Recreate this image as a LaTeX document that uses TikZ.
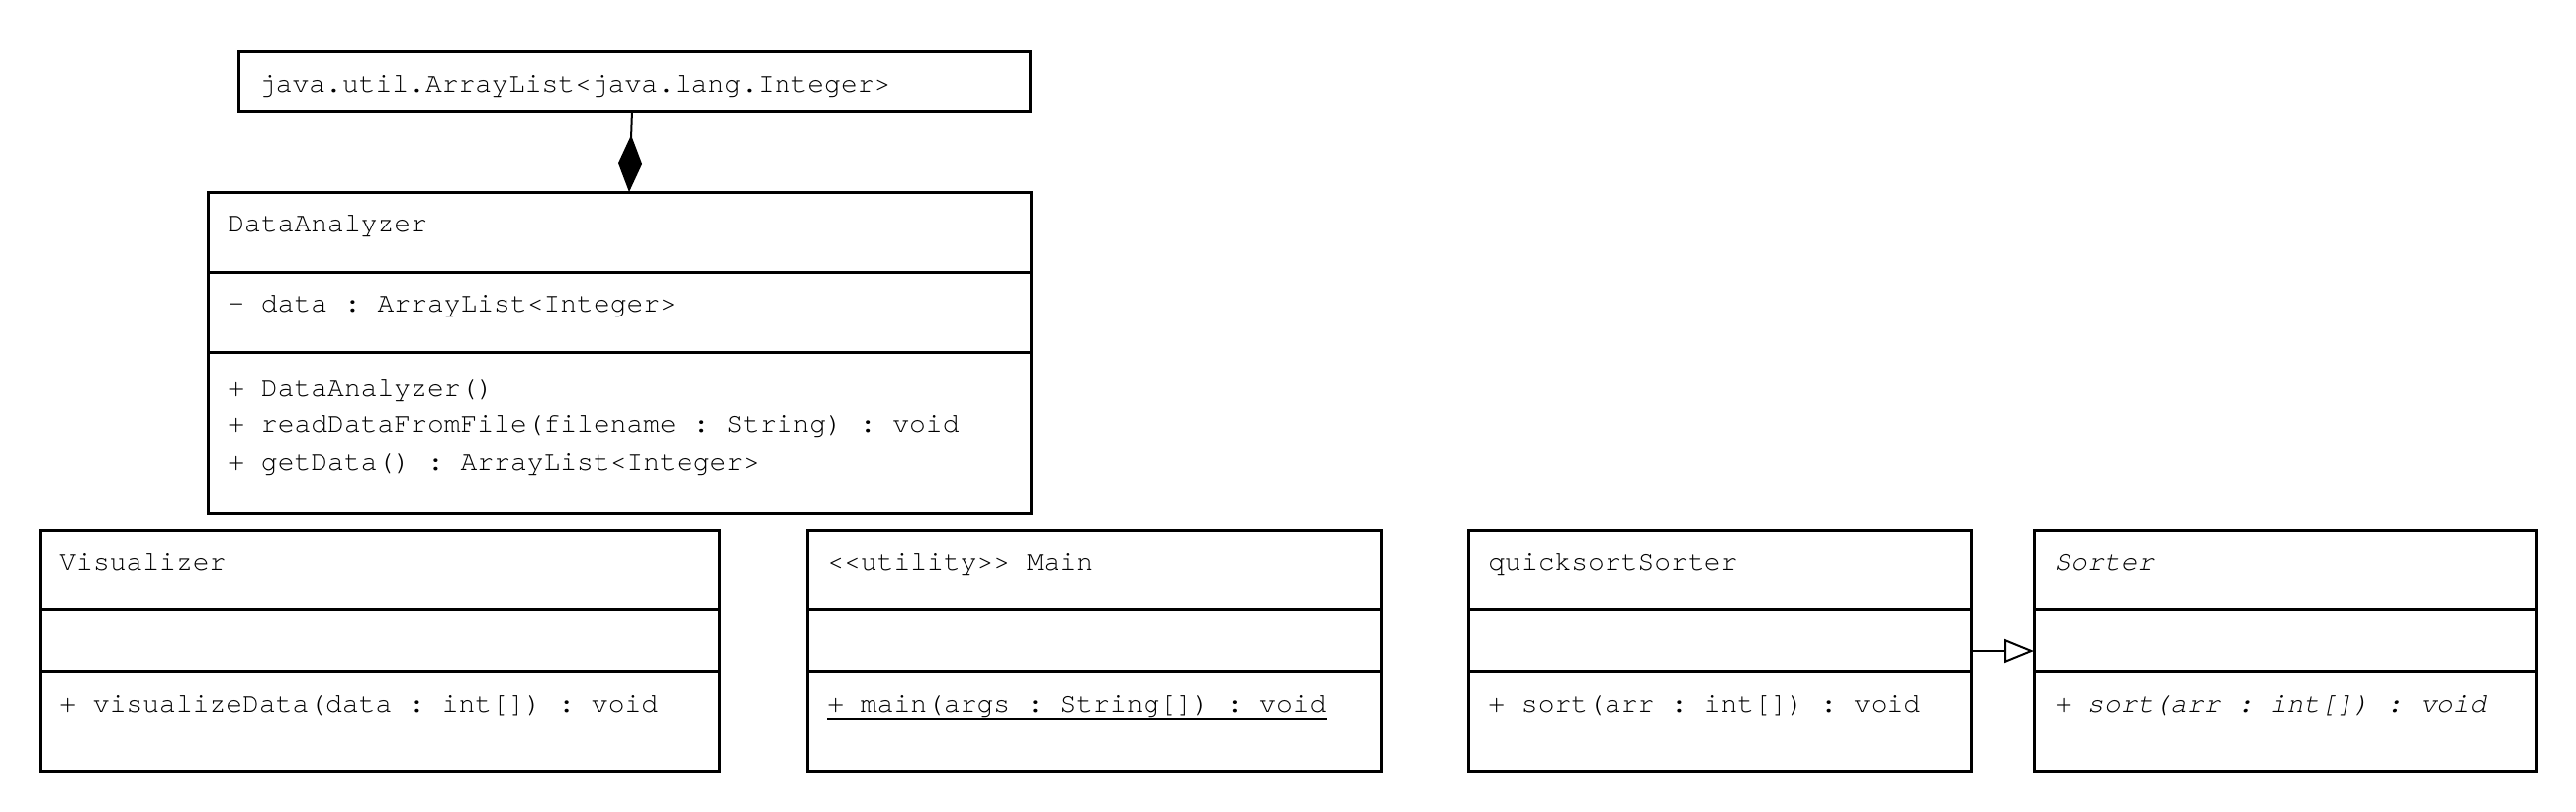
\documentclass[tikz,border=0pt]{standalone}
\usepackage{fontspec}
\setmonofont[Ligatures=NoCommon]{TeX Gyre Cursor}
\usetikzlibrary{arrows.meta,calc}
\begin{document}
\begin{tikzpicture}[x=0.5pt,y=-0.5pt,
  box/.style={draw, line width=1.5pt, anchor=north west, inner sep=0pt, outer sep=0pt, rectangle},
  divider/.style={line width=1.5pt},
  lbl/.style={anchor=base west, inner sep=0pt, font=\ttfamily\fontsize{14pt}{18pt}\selectfont},
  ilbl/.style={lbl, font=\ttfamily\itshape\fontsize{14pt}{18pt}\selectfont},
  comp/.style={line width=1pt, -{Diamond[length=28.5pt,width=12pt]}},
  gen/.style={line width=1pt, -{Triangle[open,length=15pt,width=12pt,fill=white]}}]
\useasboundingbox (0,0) rectangle (2604,820);

% java.util.ArrayList box
\node[box, minimum width=400pt, minimum height=30pt] (al) at (241.6,52) {};
\node[lbl] (alt) at (261.6,93) {java.util.ArrayList<java.lang.Integer>};

% DataAnalyzer
\node[box, minimum width=416pt, minimum height=162.5pt] (da) at (210,194) {};
\draw[divider] ($(da.north west)+(0,81)$) -- ($(da.north east)+(0,81)$);
\draw[divider] ($(da.north west)+(0,162)$) -- ($(da.north east)+(0,162)$);
\node[lbl] (dan) at (230,234) {DataAnalyzer};
\node[lbl] (daa) at (230,315) {- data : ArrayList<Integer>};
\node[lbl] (dam1) at (230,400) {+ DataAnalyzer()};
\node[lbl] (dam2) at (230,437) {+ readDataFromFile(filename : String) : void};
\node[lbl] (dam3) at (230,475) {+ getData() : ArrayList<Integer>};

% Visualizer
\node[box, minimum width=343.5pt, minimum height=122pt] (vis) at (40,536) {};
\draw[divider] ($(vis.north west)+(0,80)$) -- ($(vis.north east)+(0,80)$);
\draw[divider] ($(vis.north west)+(0,142)$) -- ($(vis.north east)+(0,142)$);
\node[lbl] (visn) at (60,576) {Visualizer};
\node[lbl] (vism) at (60,720) {+ visualizeData(data : int[]) : void};

% Main
\node[box, minimum width=290pt, minimum height=122pt] (mn) at (816,536) {};
\draw[divider] ($(mn.north west)+(0,80)$) -- ($(mn.north east)+(0,80)$);
\draw[divider] ($(mn.north west)+(0,142)$) -- ($(mn.north east)+(0,142)$);
\node[lbl] (mnn) at (836,576) {<<utility>> Main};
\node[lbl] (mnm) at (836,720) {+ main(args : String[]) : void};
\draw[line width=1pt] ($(mnm.base west)+(0,7)$) -- ($(mnm.base east)+(0,7)$);

% quicksortSorter
\node[box, minimum width=254pt, minimum height=122pt] (qs) at (1484,536) {};
\draw[divider] ($(qs.north west)+(0,80)$) -- ($(qs.north east)+(0,80)$);
\draw[divider] ($(qs.north west)+(0,142)$) -- ($(qs.north east)+(0,142)$);
\node[lbl] (qsn) at (1504,576) {quicksortSorter};
\node[lbl] (qsm) at (1504,720) {+ sort(arr : int[]) : void};

% Sorter
\node[box, minimum width=254pt, minimum height=122pt] (so) at (2056,536) {};
\draw[divider] ($(so.north west)+(0,80)$) -- ($(so.north east)+(0,80)$);
\draw[divider] ($(so.north west)+(0,142)$) -- ($(so.north east)+(0,142)$);
\node[ilbl] (son) at (2076,576) {Sorter};
\node[ilbl] (som) at (2076,720) {+ sort(arr : int[]) : void};

% connectors
\coordinate (alc) at ($(al.south west)+(397.4,0)$);
\coordinate (dac) at ($(da.north west)+(426,0)$);
\draw[comp] (alc) -- (dac);
\coordinate (qsc) at ($(qs.north east)+(0,122)$);
\coordinate (soc) at ($(so.north west)+(0,122)$);
\draw[gen] (qsc) -- (soc);
\end{tikzpicture}
\end{document}
